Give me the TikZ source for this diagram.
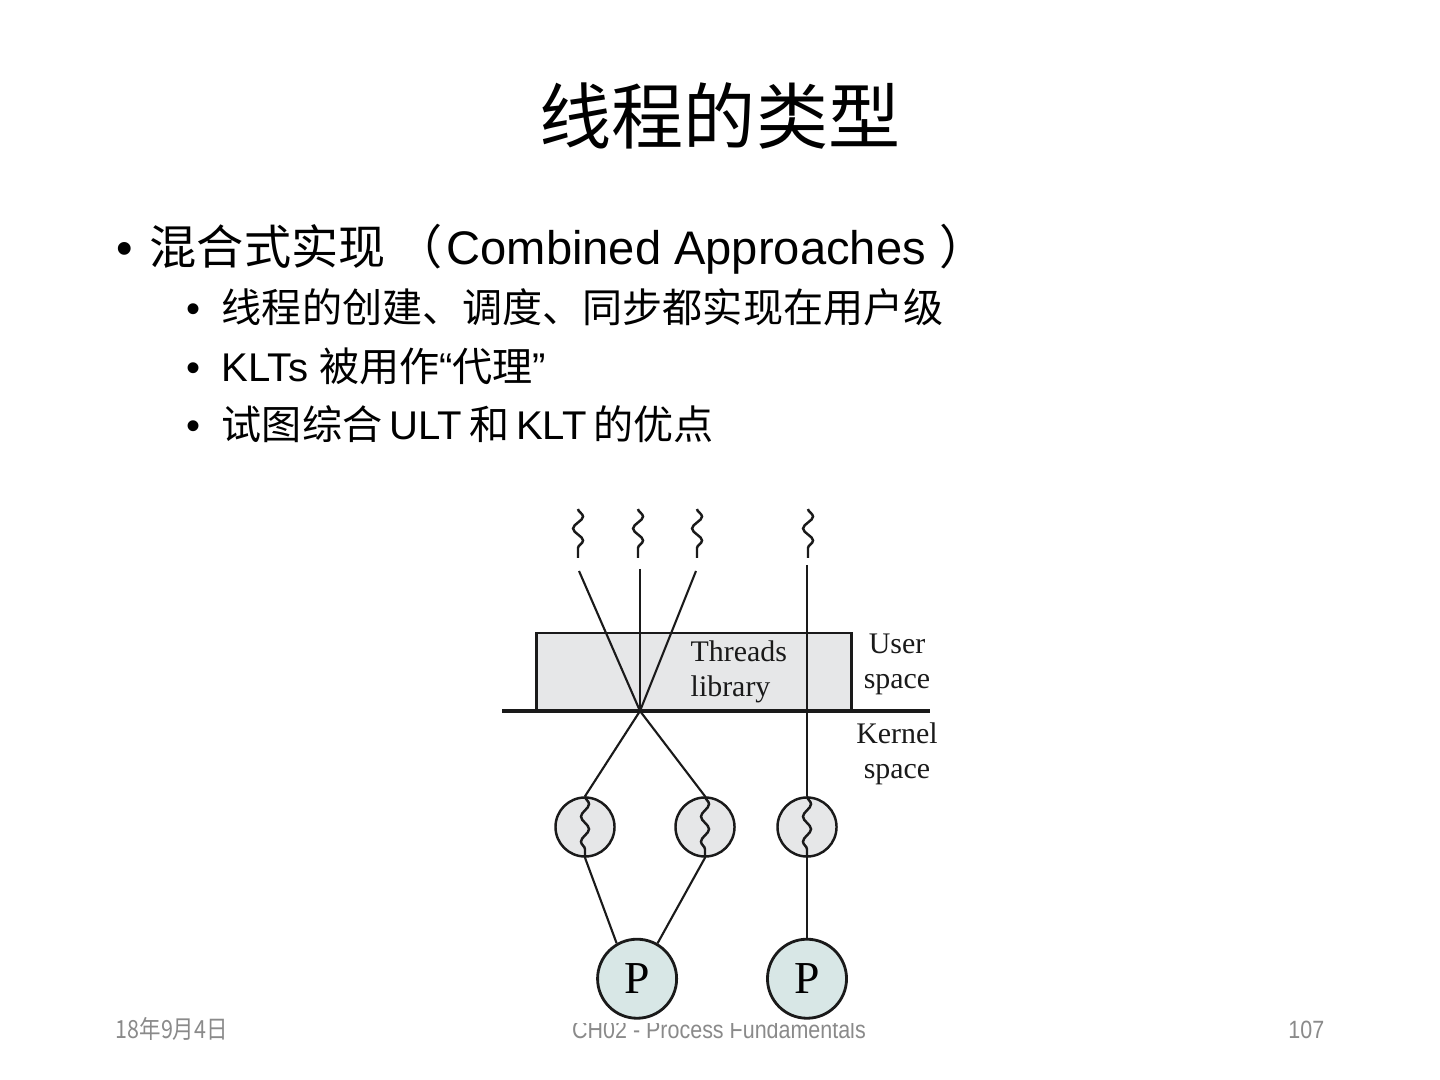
\documentclass[tikz,border=0pt]{standalone}
\usepackage{fontspec}
\setmainfont{Liberation Sans}
\newfontfamily\cjk{Noto Sans CJK SC}
\newfontfamily\serif{Liberation Serif}
\newfontfamily\footlat[FakeStretch=0.86]{Liberation Sans}
\newfontfamily\footcjk[FakeStretch=0.86]{Noto Sans CJK SC}
\usetikzlibrary{positioning,decorations.pathmorphing}
\definecolor{cInk}{HTML}{1A1A1A}
\definecolor{cLib}{HTML}{E6E7E8}
\definecolor{cKern}{HTML}{E6E7E8}
\definecolor{cProc}{HTML}{D8E7E6}
\definecolor{cFoot}{HTML}{8A8A8A}
\newcommand{\tsp}{\hspace{2pt}}
\tikzset{
  slidetitle/.style = {font=\fontsize{20.5}{24}\selectfont\cjk, anchor=base, inner sep=0pt},
  item/.style    = {font=\fontsize{13.4}{16}\selectfont, anchor=base west, inner sep=0pt},
  subitem/.style = {font=\fontsize{11.4}{14}\selectfont, anchor=base west, inner sep=0pt},
  lbl/.style     = {font=\fontsize{8.5}{10}\selectfont\serif, align=center,
                    inner sep=0pt, text=cInk},
  libbox/.style  = {draw=cInk, fill=cLib, line width=0.8pt, minimum width=31.5mm,
                    minimum height=7.8mm, inner sep=0pt},
  kthread/.style = {circle, draw=cInk, fill=cKern, line width=0.7pt,
                    minimum size=5.9mm, inner sep=0pt},
  proc/.style    = {circle, draw=cInk, fill=cProc, line width=0.8pt,
                    minimum size=7.9mm, inner sep=0pt,
                    font=\fontsize{13}{14}\selectfont\serif},
  link/.style    = {draw=cInk, line width=0.6pt},
  sepline/.style = {draw=cInk, line width=1.2pt},
  squig/.style   = {draw=cInk, line width=0.7pt, decorate,
                    decoration={snake, amplitude=0.5mm, segment length=2.4mm}},
  ksquig/.style  = {squig, decoration={amplitude=0.4mm, segment length=2.5mm}},
  foot/.style    = {text=cFoot, font=\fontsize{7.1}{8}\selectfont, anchor=base,
                    inner sep=0pt},
}
\begin{document}
\begin{tikzpicture}[x=0.01cm, y=-0.01cm]
  \fill[white] (0,0) rectangle (1440,1080);
  \useasboundingbox (0,0) rectangle (1440,1080);

  \node[slidetitle] (title) at (720,144) {线程的类型};
  \node[item] (b1) at (116,265)
    {\makebox[9.4pt][l]{•}{\cjk 混合式实现 （}\hspace{1pt}Combined Approaches {\cjk ）}};
  \node[subitem] (s1) at (186,323)
    {\makebox[10pt][l]{•}{\cjk 线程的创建、调度、同步都实现在用户级}};
  \node[subitem] (s2) at (186,382)
    {\makebox[10pt][l]{•}KLTs {\cjk 被用作}“{\cjk 代理}”};
  \node[subitem] (s3) at (186,440)
    {\makebox[10pt][l]{•}{\cjk 试图综合}\tsp ULT\tsp{\cjk 和}\tsp KLT\tsp{\cjk 的优点}};

  \node[foot, anchor=base west] (date) at (115,1038) {\footcjk 18年9月4日};
  \node[foot] (chap) at (719,1038) {\footlat CH02 - Process Fundamentals};
  \node[foot, anchor=base east] (page) at (1325,1038) {\footlat 107};
  \fill[white] (495,495) rectangle (945,1023);

  \node[libbox] (lib) at (694,672) {};
  \node[lbl, align=left, anchor=west] (libtxt) at (690,672) {Threads\\library};
  \node[lbl] (usr) at (897,664) {User\\space};
  \node[lbl] (krn) at (897,754) {Kernel\\space};
  \coordinate (sepL) at (502,711);
  \coordinate (sepR) at (930,711);
  \draw[sepline] (sepL) -- (sepR);
  \coordinate (xing) at (640,711);

  \draw[squig] (578,509) -- (578,558);
  \draw[squig] (638,509) -- (638,558);
  \draw[squig] (697,509) -- (697,558);
  \draw[squig] (808,509) -- (808,558);
  \coordinate (u1) at (579,571);
  \coordinate (u2) at (640,569);
  \coordinate (u3) at (696,571);
  \coordinate (u4) at (807,565);

  \node[kthread] (k1) at (585,827) {};
  \node[kthread] (k2) at (705,827) {};
  \node[kthread] (k3) at (807,827) {};
  \draw[ksquig] (k1.north) -- (k1.south);
  \draw[ksquig] (k2.north) -- (k2.south);
  \draw[ksquig] (k3.north) -- (k3.south);
  \node[proc, below=8mm of k3] (p2) {P};
  \node[proc, left=8.8mm of p2] (p1) {P};

  \draw[link] (u1) -- (xing);
  \draw[link] (u2) -- (xing);
  \draw[link] (u3) -- (xing);
  \draw[link] (u4) -- (k3.north);
  \draw[link] (xing) -- (k1.north);
  \draw[link] (xing) -- (k2.north);
  \draw[link] (k1.south) -- (p1.120);
  \draw[link] (k2.south) -- (p1.60);
  \draw[link] (k3.south) -- (p2.north);
\end{tikzpicture}
\end{document}
